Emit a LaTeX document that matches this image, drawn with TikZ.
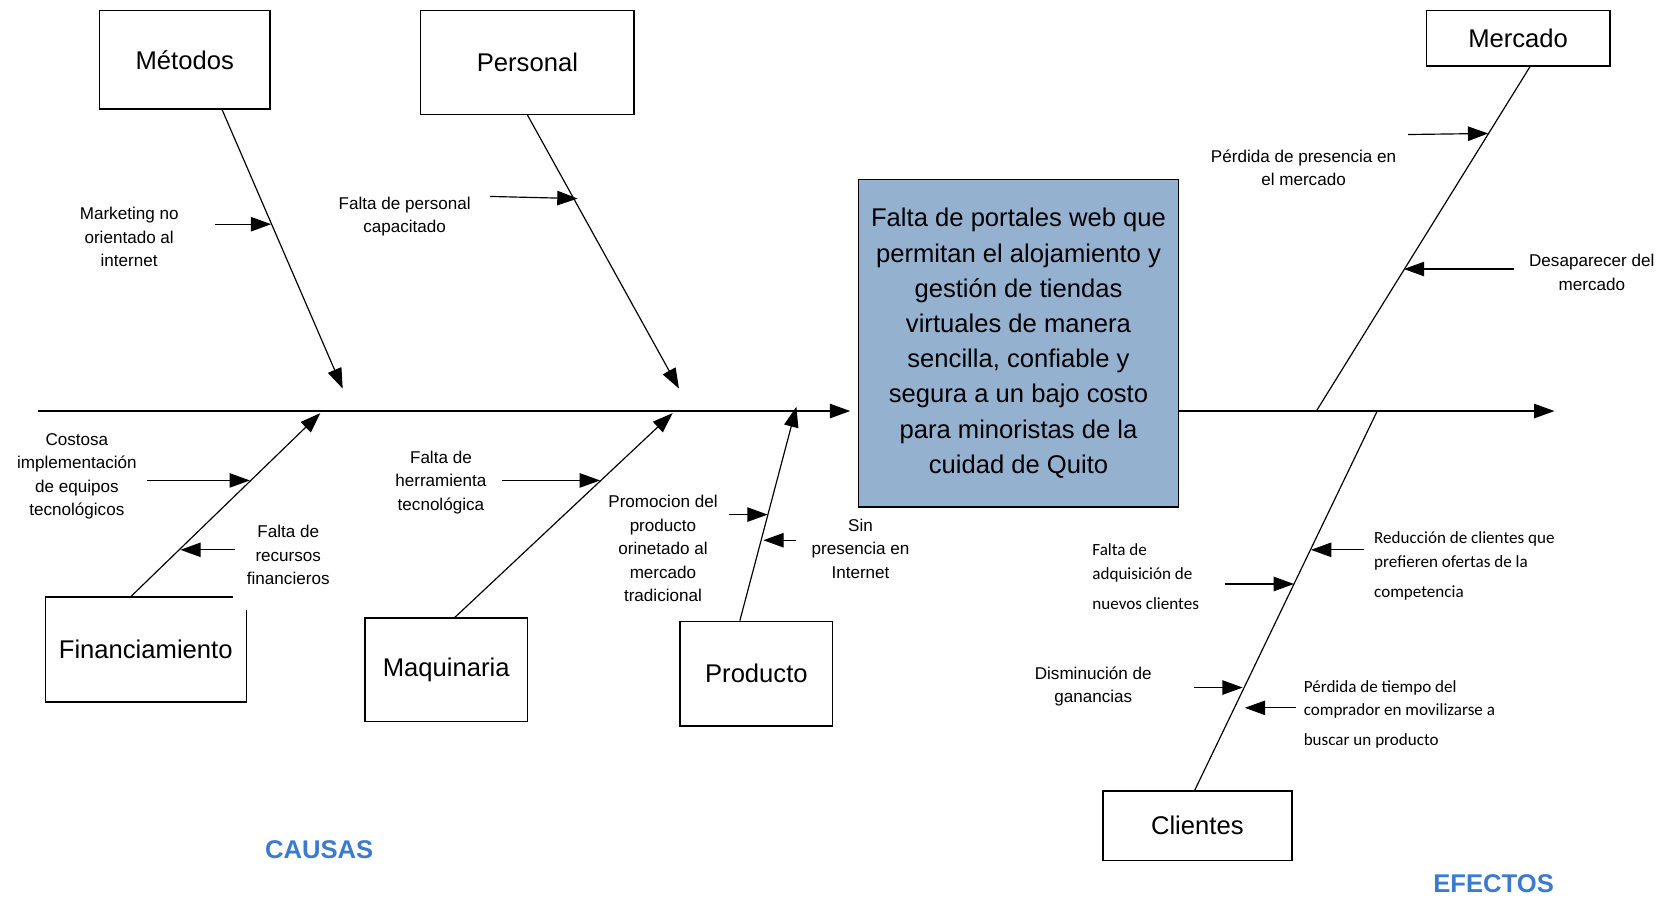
\documentclass[tikz,border=0pt]{standalone}
\usepackage{fontspec}
\setmainfont{Liberation Sans}
\newfontfamily\calibri{Carlito}
\usetikzlibrary{arrows.meta}
\definecolor{goalfill}{RGB}{149,177,208}
\definecolor{tagblue}{RGB}{60,122,206}
\begin{document}
\begin{tikzpicture}[x=1pt,y=-1pt,
  catbox/.style={draw, line width=1.3pt, font=\fontsize{24}{29}\selectfont, inner sep=0pt},
  lbl/.style={font=\fontsize{16}{22}\selectfont, align=center, inner sep=0pt},
  clbl/.style={font=\calibri\fontsize{16}{22}\selectfont, align=left, inner sep=0pt, anchor=west},
  bone/.style={line width=1.1pt, -{Triangle[length=19pt,width=13.5pt]}},
  twig/.style={line width=1.1pt, -{Triangle[length=19pt,width=13.5pt]}},
  plainbone/.style={line width=1.1pt},
  tag/.style={font=\fontsize{24}{29}\selectfont\bfseries, text=tagblue}
]
\useasboundingbox (0,0) rectangle (1568,843);

% problem statement
\node[draw, line width=1.3pt, fill=goalfill, minimum width=300, minimum height=307,
      font=\fontsize{24}{33}\selectfont, align=center, inner sep=0pt] (goal) at (954,321.5)
  {Falta de portales web que\\permitan el alojamiento y\\gestión de tiendas\\virtuales de manera\\sencilla, confiable y\\segura a un bajo costo\\para minoristas de la\\cuidad de Quito};

% category boxes
\node[catbox, minimum width=160, minimum height=92] (met) at (173,56) {Métodos};
\node[catbox, minimum width=200, minimum height=97] (pers) at (494,58.5) {Personal};
\node[catbox, minimum width=172, minimum height=52] (merc) at (1422,36) {Mercado};
\node[catbox, draw=none, minimum width=187, minimum height=97] (fin) at (136.5,608.5) {Financiamiento};
\draw[line width=1.3pt] ([xshift=-12]fin.north east) -- (fin.north west) -- (fin.south west)
  -- (fin.south east) -- ([yshift=-12]fin.north east);
\node[catbox, minimum width=152, minimum height=97] (maq) at (418,627.5) {Maquinaria};
\node[catbox, minimum width=143, minimum height=98] (prod) at (708.5,631) {Producto};
\node[catbox, minimum width=177, minimum height=65] (cli) at (1121.5,773.5) {Clientes};

% spine
\coordinate (tail) at (36,385);
\coordinate (head) at (1456,385);
\draw[bone, shorten >=7pt] (tail) -- (tail -| goal.west);
\draw[bone] (goal.east |- tail) -- (head);

% cause bones
\coordinate (metTip) at (321,364);
\coordinate (persTip) at (636,364);
\coordinate (finTip) at (300,387);
\coordinate (maqTip) at (630,387);
\coordinate (prodTip) at (746,381);
\draw[bone] ([xshift=35]met.south) -- (metTip);
\draw[bone] (pers.south) -- (persTip);
\draw[bone] ([xshift=-14.5]fin.north) -- (finTip);
\draw[bone] ([xshift=8]maq.north) -- (maqTip);
\draw[bone] ([xshift=-15.5]prod.north) -- (prodTip);

% effect bones
\coordinate (mercFoot) at (1233,385);
\coordinate (cliFoot) at (1290,385);
\draw[plainbone] ([xshift=11]merc.south) -- (mercFoot);
\draw[plainbone] (cliFoot) -- ([xshift=-2.5]cli.north);

% cause labels
\node[lbl] (c1) at (121,222) {Marketing no\\orientado al\\internet};
\node[lbl] (c2) at (379,203) {Falta de personal\\capacitado};
\node[lbl] (c3) at (72,446) {Costosa\\implementación\\de equipos\\tecnológicos};
\node[lbl] (c4) at (270,520) {Falta de\\recursos\\financieros};
\node[lbl] (c5) at (413,452) {Falta de\\herramienta\\tecnológica};
\node[lbl] (c6) at (621,514) {Promocion del\\producto\\orinetado al\\mercado\\tradicional};
\node[lbl] (c7) at (806,514) {Sin\\presencia en\\Internet};

\coordinate (c1a) at (201,210);  \coordinate (c1b) at (254,210);
\coordinate (c2a) at (459,184);  \coordinate (c2b) at (541,186);
\coordinate (c3a) at (138,450);  \coordinate (c3b) at (234,450);
\coordinate (c4a) at (220,515);  \coordinate (c4b) at (169,515);
\coordinate (c5a) at (470,450);  \coordinate (c5b) at (562,450);
\coordinate (c6a) at (683,482);  \coordinate (c6b) at (719,482);
\coordinate (c7a) at (746,506);  \coordinate (c7b) at (715,506);
\foreach \k in {1,...,7}{\draw[twig] (c\k a) -- (c\k b);}

% effect labels
\node[lbl] (e1) at (1221,157) {Pérdida de presencia en\\el mercado};
\node[lbl] (e2) at (1491,255) {Desaparecer del\\mercado};
\node[clbl] (e3) at (1287,530) {Reducción de clientes que\\prefieren ofertas de la\\[6pt]competencia};
\node[clbl] (e4) at (1023,540) {Falta de\\adquisición de\\[6pt]nuevos clientes};
\node[lbl] (e5) at (1024,643) {Disminución de\\ganancias};
\node[clbl] (e6) at (1221,669) {Pérdida de tiempo del\\comprador en movilizarse a\\[6pt]buscar un producto};

\coordinate (e1a) at (1319,126); \coordinate (e1b) at (1394,125);
\coordinate (e2a) at (1418,252); \coordinate (e2b) at (1315,252);
\coordinate (e3a) at (1278,515); \coordinate (e3b) at (1228,515);
\coordinate (e4a) at (1147,547); \coordinate (e4b) at (1212,547);
\coordinate (e5a) at (1118,644); \coordinate (e5b) at (1164,644);
\coordinate (e6a) at (1214,663); \coordinate (e6b) at (1166,663);
\foreach \k in {1,...,6}{\draw[twig] (e\k a) -- (e\k b);}

% side captions
\node[tag] (causas) at (299,796) {CAUSAS};
\node[tag] (efectos) at (1399,828) {EFECTOS};
\end{tikzpicture}
\end{document}
